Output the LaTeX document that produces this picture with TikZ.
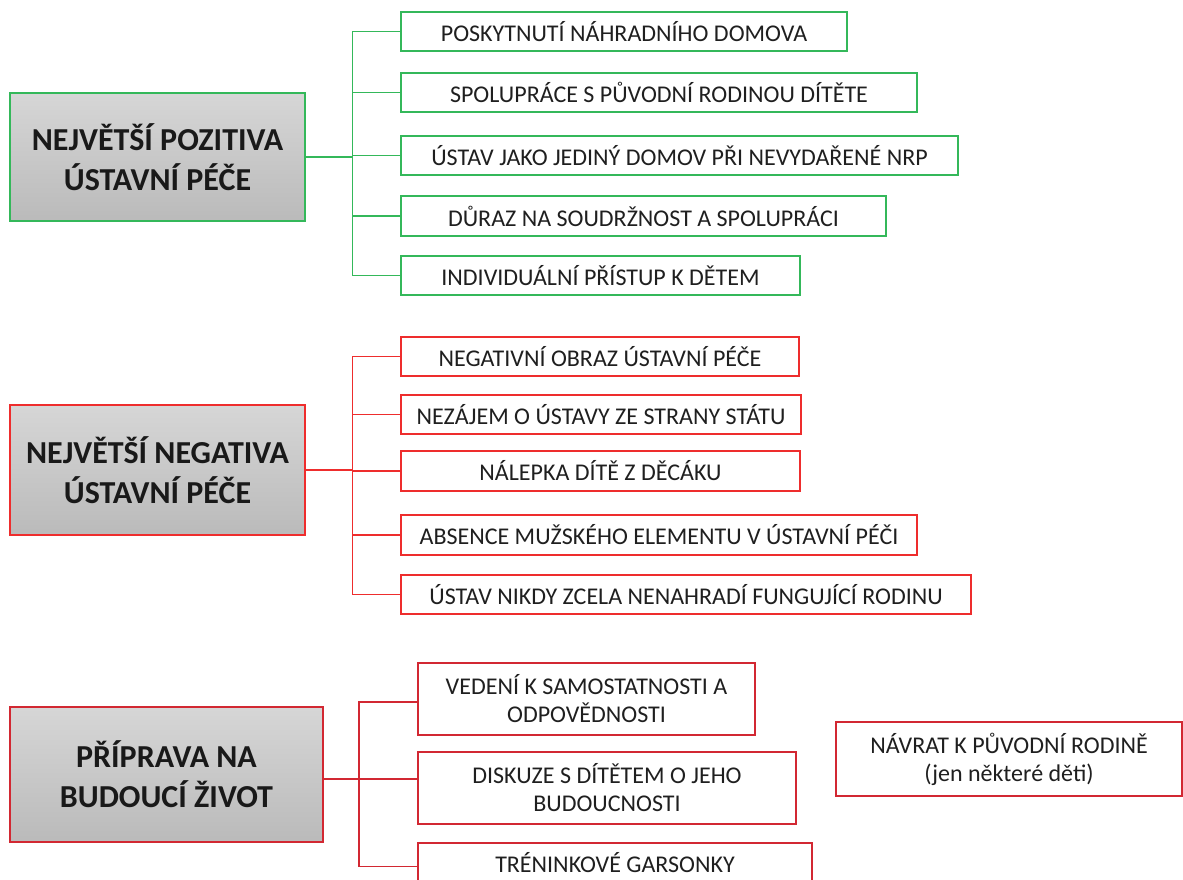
\documentclass[tikz,border=0pt]{standalone}
\usepackage{fontspec}
\setmainfont{Carlito}
\definecolor{grn}{RGB}{52,184,90}
\definecolor{redA}{RGB}{238,45,45}
\definecolor{redB}{RGB}{210,40,50}
\begin{document}
\begin{tikzpicture}[x=0.5pt,y=-0.5pt,
  item/.style={draw, line width=0.95pt, fill=white, inner sep=0pt, align=center,
    font=\fontsize{12}{14}\selectfont, text=black!88},
  mainbox/.style={draw, line width=1.1pt, top color=black!16, bottom color=black!27,
    inner sep=0pt, align=center, font=\fontsize{16}{20}\selectfont\bfseries, text=black!90},
  conn/.style={line width=0.95pt}]
\useasboundingbox (0,0) rectangle (1183,879);
\clip (0,0) rectangle (1183,879);

% ---------- green group ----------
\begin{scope}[every node/.append style={draw=grn}]
\node[mainbox, minimum width=147.5pt, minimum height=64pt] (P) at (157.5,157) {NEJVĚTŠÍ POZITIVA\\ÚSTAVNÍ PÉČE};
\node[item, minimum width=223pt, minimum height=19.5pt] (g1) at (624,31.5) {POSKYTNUTÍ NÁHRADNÍHO DOMOVA};
\node[item, minimum width=258pt, minimum height=19.5pt] (g2) at (659,92.5) {SPOLUPRÁCE S PŮVODNÍ RODINOU DÍTĚTE};
\node[item, minimum width=278.5pt, minimum height=19.5pt] (g3) at (679.5,155.5) {ÚSTAV JAKO JEDINÝ DOMOV PŘI NEVYDAŘENÉ NRP};
\node[item, minimum width=242.5pt, minimum height=20pt] (g4) at (643.5,216) {DŮRAZ NA SOUDRŽNOST A SPOLUPRÁCI};
\node[item, minimum width=199.5pt, minimum height=19.5pt] (g5) at (600.5,275.5) {INDIVIDUÁLNÍ PŘÍSTUP K DĚTEM};
\end{scope}
\coordinate (gb) at (352.5,0);
\begin{scope}[conn, draw=grn]
\draw (P.east) -- (P.east -| gb);
\draw (g1.west) -- (g1.west -| gb) -- (g5.west -| gb) -- (g5.west);
\draw (g2.west) -- (g2.west -| gb);
\draw (g3.west) -- (g3.west -| gb);
\draw (g4.west) -- (g4.west -| gb);
\end{scope}

% ---------- red group 1 ----------
\begin{scope}[every node/.append style={draw=redA}]
\node[mainbox, minimum width=147.5pt, minimum height=65pt] (N) at (157.5,470) {NEJVĚTŠÍ NEGATIVA\\ÚSTAVNÍ PÉČE};
\node[item, minimum width=199pt, minimum height=19.5pt] (r1) at (600,356.5) {NEGATIVNÍ OBRAZ ÚSTAVNÍ PÉČE};
\node[item, minimum width=200pt, minimum height=19.5pt] (r2) at (601,414.5) {NEZÁJEM O ÚSTAVY ZE STRANY STÁTU};
\node[item, minimum width=199.5pt, minimum height=20pt] (r3) at (600.5,471) {NÁLEPKA DÍTĚ Z DĚCÁKU};
\node[item, minimum width=258pt, minimum height=20pt] (r4) at (659,535) {ABSENCE MUŽSKÉHO ELEMENTU V ÚSTAVNÍ PÉČI};
\node[item, minimum width=285pt, minimum height=19.5pt] (r5) at (686,594.5) {ÚSTAV NIKDY ZCELA NENAHRADÍ FUNGUJÍCÍ RODINU};
\end{scope}
\coordinate (rb) at (352.5,0);
\begin{scope}[conn, draw=redA]
\draw (N.east) -- (N.east -| rb);
\draw (r1.west) -- (r1.west -| rb) -- (r5.west -| rb) -- (r5.west);
\draw (r2.west) -- (r2.west -| rb);
\draw (r3.west) -- (r3.west -| rb);
\draw (r4.west) -- (r4.west -| rb);
\end{scope}

% ---------- red group 2 ----------
\begin{scope}[every node/.append style={draw=redB}]
\node[mainbox, minimum width=156.5pt, minimum height=67.5pt] (B) at (166.5,774.5) {PŘÍPRAVA NA\\BUDOUCÍ ŽIVOT};
\node[item, minimum width=168.5pt, minimum height=36pt] (d1) at (586.5,699) {VEDENÍ K SAMOSTATNOSTI A\\ODPOVĚDNOSTI};
\node[item, minimum width=189pt, minimum height=36pt] (d2) at (607,788) {DISKUZE S DÍTĚTEM O JEHO\\BUDOUCNOSTI};
\node[item, minimum width=197pt, minimum height=19.5pt] (d3) at (615,862.5) {TRÉNINKOVÉ GARSONKY};
\node[item, minimum width=173pt, minimum height=37pt] (ret) at (1009,759) {NÁVRAT K PŮVODNÍ RODINĚ\\(jen některé děti)};
\end{scope}
\coordinate (bj1) at (359,702);
\coordinate (bj2) at (359,779);
\coordinate (bj3) at (359,866.5);
\begin{scope}[conn, draw=redB]
\draw (bj2 -| B.east) -- (bj2 -| d2.west);
\draw (bj1 -| d1.west) -- (bj1) -- (bj3) -- (bj3 -| d3.west);
\end{scope}
\end{tikzpicture}
\end{document}
